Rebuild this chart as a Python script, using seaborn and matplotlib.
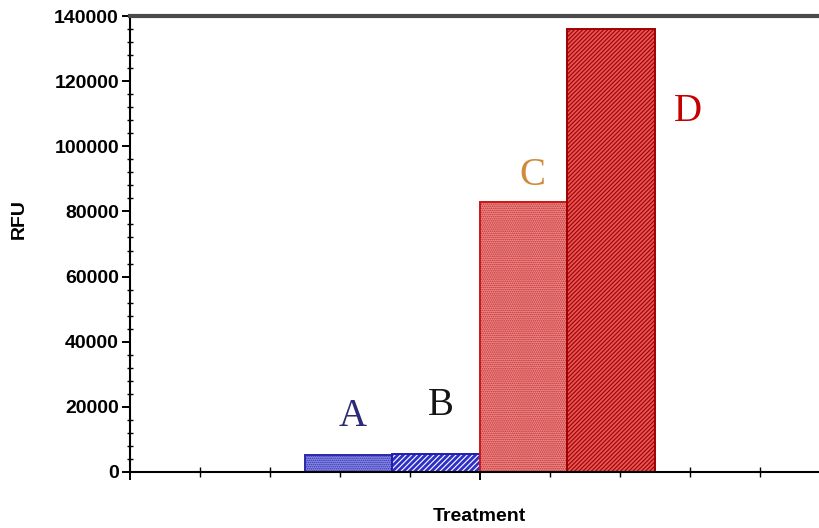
import matplotlib
matplotlib.use("Agg")
import matplotlib.pyplot as plt
from matplotlib.ticker import MultipleLocator, FixedLocator, NullFormatter
from matplotlib.colors import to_rgba
import seaborn as sns
import pandas as pd

# ---- data ----
treatments = ["A", "B", "C", "D"]
rfu = [5200, 5500, 83000, 136000]
y_ticks = [0, 20000, 40000, 60000, 80000, 100000, 120000, 140000]
fill_colors = ["#8c8cf0", "#2e2ec8", "#f48a8a", "#e65656"]
edge_colors = ["#2a2aa8", "#1e1eb0", "#c81818", "#a00000"]
hatch_colors = ["#3030a0", "#ffffff", "#b83030", "#a00000"]
hatches = ["........", "//////", "........", "////////"]
letter_colors = ["#2c2a78", "#151515", "#d08a3c", "#c40000"]

sns.set_theme(style="white")
plt.rcParams["font.family"] = ["Liberation Sans", "DejaVu Sans"]
plt.rcParams["hatch.linewidth"] = 0.8

df = pd.DataFrame({"Treatment": treatments, "RFU": rfu})

fig = plt.figure(figsize=(8.2, 5.28), dpi=100)
ax = fig.add_axes([130 / 820, 56 / 528, 690 / 820, 456 / 528])

sns.barplot(data=df, x="Treatment", y="RFU", hue="Treatment",
            palette=fill_colors, width=1.0, saturation=1, legend=False,
            order=treatments, hue_order=treatments, ax=ax)

for patch, ec, hc, h in zip(ax.patches, edge_colors, hatch_colors, hatches):
    patch.set_edgecolor(ec)
    patch.set_hatch(h)
    patch.set_linewidth(1.4)
    patch._hatch_color = to_rgba(hc)

# letter annotations tied to bars
label_dx = [0.05, 0.05, 0.1, 0.88]
label_dy = [11700, 14800, 8000, -25200]
for i, (t, v) in enumerate(zip(treatments, rfu)):
    ax.text(i + label_dx[i], v + label_dy[i], t, ha="center", va="center",
            fontsize=28, color=letter_colors[i], family=["Liberation Serif"])

# axes styling
ax.set_xlim(-2.5, 5.386)
ax.set_ylim(0, 140000)
ax.set_yticks(y_ticks)
ax.set_yticklabels([str(t) for t in y_ticks], fontweight="bold", fontsize=14,
                   color="black")
ax.yaxis.set_minor_locator(MultipleLocator(4000))

ax.xaxis.set_major_locator(FixedLocator([-2.5, 1.5]))
ax.xaxis.set_major_formatter(NullFormatter())
ax.xaxis.set_minor_locator(FixedLocator([-2.5 + 0.8 * k for k in range(1, 10) if k != 5]))

ax.tick_params(axis="y", which="major", direction="out", length=6, width=1.4,
               color="black", pad=2, left=True)
ax.tick_params(axis="y", which="minor", direction="inout", length=4, width=1.0,
               color="black", left=True)
ax.tick_params(axis="x", which="major", direction="inout", length=12, width=1.4,
               color="black", bottom=True)
ax.tick_params(axis="x", which="minor", direction="inout", length=7, width=1.0,
               color="black", bottom=True)

for side in ["left", "bottom"]:
    ax.spines[side].set_color("black")
    ax.spines[side].set_linewidth(1.5)
ax.spines["top"].set_color("#4a4a4a")
ax.spines["top"].set_linewidth(3)
ax.spines["right"].set_visible(False)

ax.set_ylabel("RFU", fontweight="bold", fontsize=14, color="black")
ax.set_xlabel("Treatment", fontweight="bold", fontsize=14, color="black")
ax.yaxis.set_label_coords(-0.148, 0.555)
ax.xaxis.set_label_coords(0.507, -0.079)
ax.xaxis.label.set_va("top")

fig.savefig("out.png", dpi=100)
